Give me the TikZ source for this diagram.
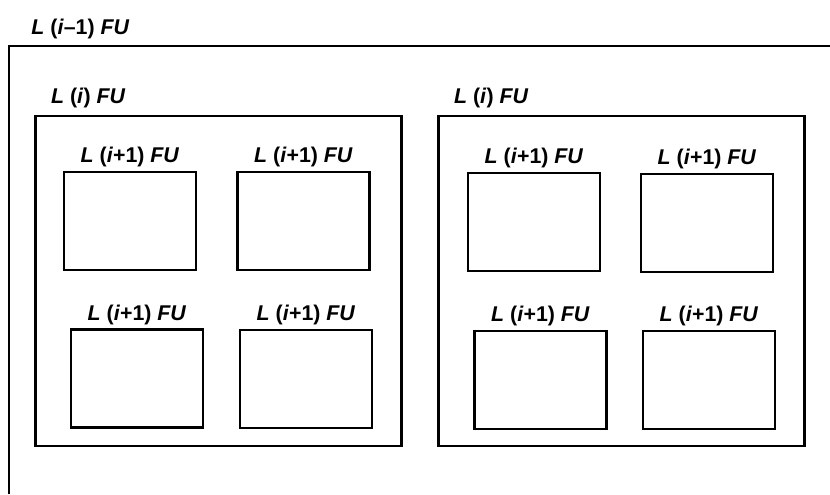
\documentclass[tikz,border=0pt]{standalone}
\usepackage{fontspec}
\setmainfont{Liberation Sans}
\usetikzlibrary{positioning}
\newcommand*{\lvl}[1]{\textbf{\textit{L} (#1) \textit{FU}}}

\begin{document}
\begin{tikzpicture}[x=0.75pt,y=-0.75pt,line width=2.2pt,
      fu/.style={draw,minimum width=99pt,minimum height=73.5pt,inner sep=0pt},
      grp/.style={draw,minimum width=275pt,minimum height=247.5pt,inner sep=0pt},
      lbl/.style={inner sep=0pt,font=\fontsize{16pt}{18pt}\selectfont}]
  \useasboundingbox (0,0) rectangle (830,494);
  % outermost level, open to the right and bottom
  \coordinate (c) at (9,46);
  \draw (c |- 0,494) -- (c) -- (830,46);
  \node[lbl, anchor=south west] (l0) at (30,40) {\lvl{\textit{i}--1}};
  % two L(i) groups
  \node[grp] (g1) at (218.5,281) {};
  \node[grp] (g2) at (621.5,281) {};
  \node[lbl, above right=4pt and 12pt of g1.north west] (l1) {\lvl{\textit{i}}};
  \node[lbl, above right=4pt and 12pt of g2.north west] (l2) {\lvl{\textit{i}}};
  % L(i+1) boxes
  \node[fu] (a1) at (130,221) {};
  \node[fu] (a2) at (303.5,221) {};
  \node[fu] (a3) at (137,378.5) {};
  \node[fu] (a4) at (306,379) {};
  \node[fu] (b1) at (534,222) {};
  \node[fu] (b2) at (707,223) {};
  \node[fu] (b3) at (540.5,380) {};
  \node[fu] (b4) at (709,380) {};
  \foreach \n in {a1,a2,a3,a4,b1,b2,b3,b4}
    \node[lbl, above=1.5pt of \n] {\lvl{\textit{i}+1}};
\end{tikzpicture}
\end{document}
